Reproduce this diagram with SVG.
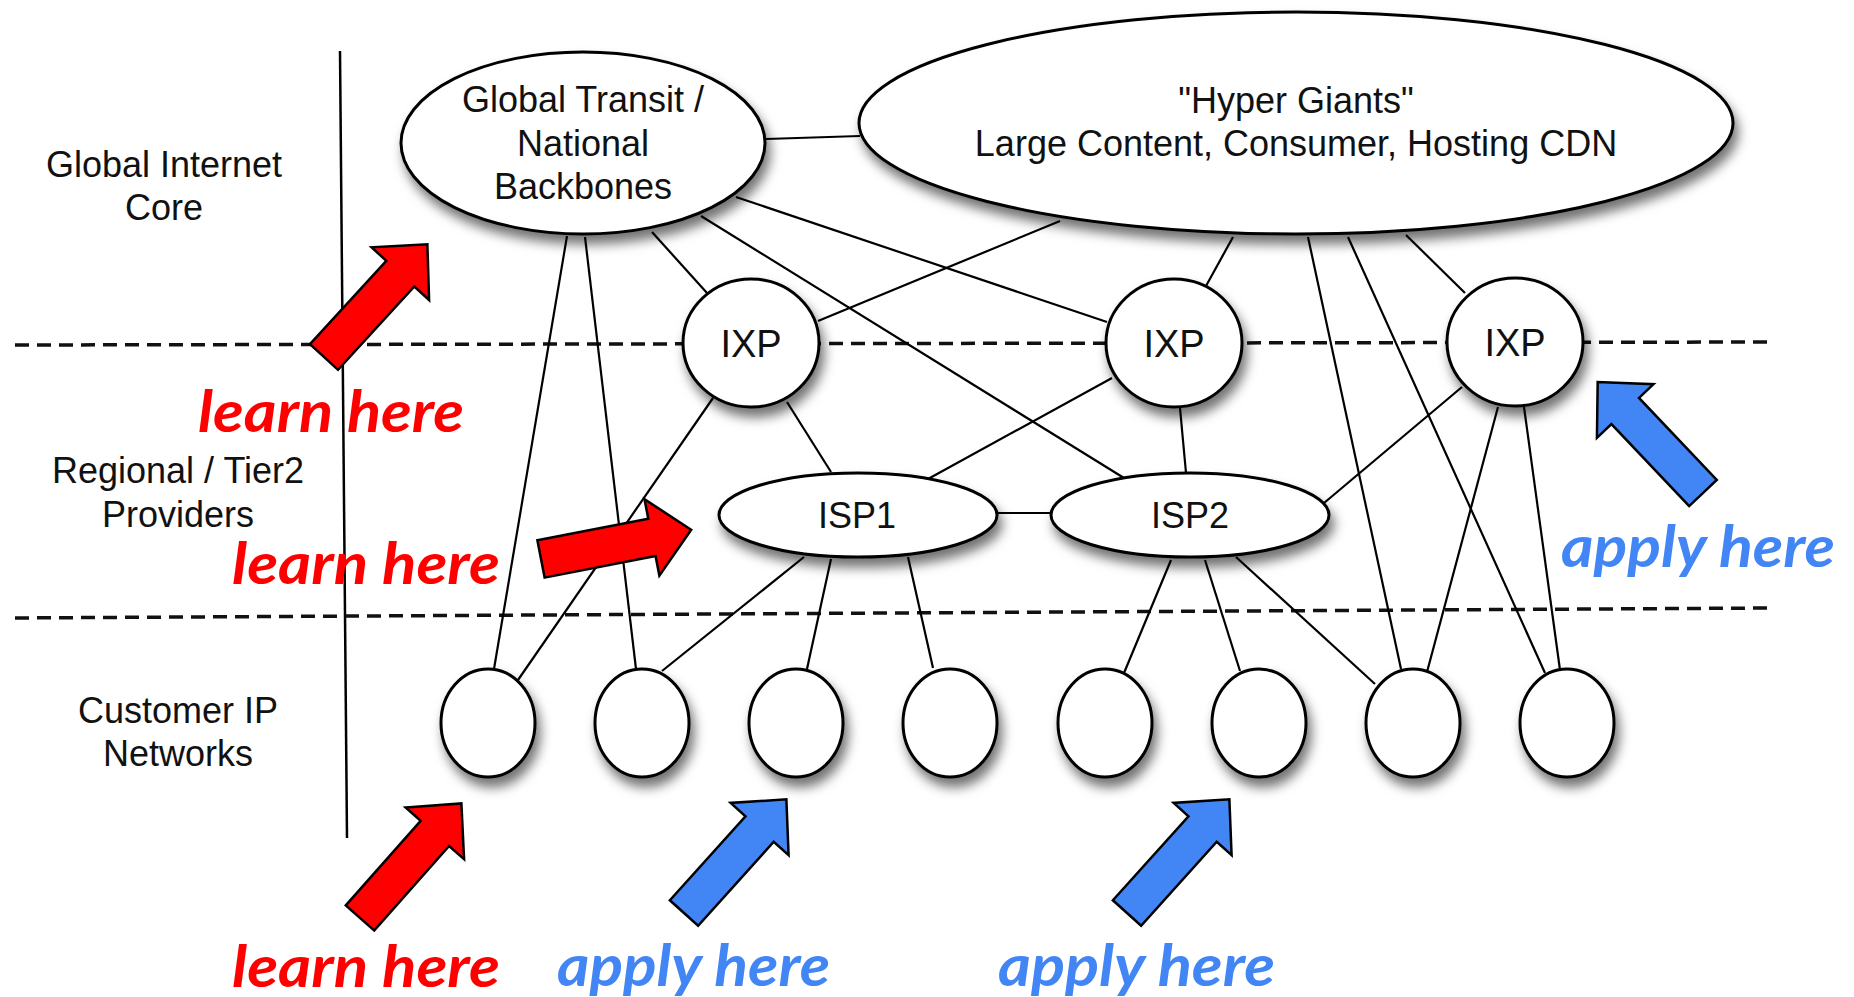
<svg xmlns="http://www.w3.org/2000/svg" width="1854" height="997" viewBox="0 0 1854 997">
<defs>
<filter id="sh" x="-30%" y="-30%" width="160%" height="170%">
<feDropShadow dx="4" dy="9" stdDeviation="6" flood-color="#000" flood-opacity="0.55"/>
</filter>
<path id="arr" d="M0,-19 L113,-19 L113,-39 L153,0 L113,39 L113,19 L0,19 Z"/>
</defs>
<style>
.node{fill:#fff;stroke:#000;stroke-width:3;filter:url(#sh)}
.lbl{font-family:"Liberation Sans",Arial,sans-serif;font-size:36px;fill:#111;text-anchor:middle}
.ixp{font-size:38px}
.con line{stroke:#000;stroke-width:2.2}
.dash{stroke:#111;stroke-width:3.5;stroke-dasharray:14 8}
.red{fill:#ff0000;stroke:#000;stroke-width:2.5;stroke-linejoin:miter}
.blue{fill:#4285f4;stroke:#000;stroke-width:2.5;stroke-linejoin:miter}
.note{font-family:Lato,"Open Sans",sans-serif;font-weight:bold;font-style:italic;font-size:58px}
.rt{fill:#ff0000}
.bt{fill:#4285f4}
</style>
<rect width="1854" height="997" fill="#fff"/>

<g id="layers">
<line x1="340" y1="51" x2="347" y2="838" stroke="#000" stroke-width="2.5"/>
<line class="dash" x1="15" y1="345" x2="1773" y2="342"/>
<line class="dash" x1="15" y1="618" x2="1773" y2="608"/>
<text class="lbl" x="164" y="177">Global Internet</text>
<text class="lbl" x="164" y="220">Core</text>
<text class="lbl" x="178" y="483">Regional / Tier2</text>
<text class="lbl" x="178" y="527">Providers</text>
<text class="lbl" x="178" y="723">Customer IP</text>
<text class="lbl" x="178" y="766">Networks</text>
</g>

<g id="connectors" class="con">
<line x1="766" y1="139" x2="860" y2="136"/>
<line x1="567" y1="236" x2="494" y2="669"/>
<line x1="585" y1="237" x2="636" y2="669"/>
<line x1="652" y1="232" x2="707" y2="293"/>
<line x1="701" y1="216" x2="1124" y2="478"/>
<line x1="736" y1="197" x2="1107" y2="322"/>
<line x1="1060" y1="221" x2="818" y2="321"/>
<line x1="1233" y1="237" x2="1206" y2="286"/>
<line x1="1308" y1="237" x2="1401" y2="669"/>
<line x1="1348" y1="237" x2="1545" y2="673"/>
<line x1="1406" y1="235" x2="1465" y2="293"/>
<line x1="713" y1="398" x2="518" y2="680"/>
<line x1="787" y1="402" x2="831" y2="472"/>
<line x1="1112" y1="378" x2="928" y2="479"/>
<line x1="1180" y1="408" x2="1186" y2="473"/>
<line x1="1462" y1="387" x2="1324" y2="503"/>
<line x1="1498" y1="407" x2="1427" y2="672"/>
<line x1="1524" y1="407" x2="1560" y2="670"/>
<line x1="997" y1="513" x2="1051" y2="513"/>
<line x1="804" y1="557" x2="662" y2="671"/>
<line x1="831" y1="559" x2="807" y2="669"/>
<line x1="908" y1="557" x2="933" y2="668"/>
<line x1="1171" y1="560" x2="1124" y2="673"/>
<line x1="1205" y1="560" x2="1240" y2="671"/>
<line x1="1236" y1="557" x2="1375" y2="684"/>
</g>

<g id="global-transit">
<ellipse class="node" cx="583" cy="143" rx="182" ry="91"/>
<text class="lbl" x="583" y="112">Global Transit /</text>
<text class="lbl" x="583" y="156">National</text>
<text class="lbl" x="583" y="199">Backbones</text>
</g>
<g id="hyper-giants">
<ellipse class="node" cx="1296" cy="123" rx="437" ry="111"/>
<text class="lbl" x="1296" y="113">"Hyper Giants"</text>
<text class="lbl" x="1296" y="156">Large Content, Consumer, Hosting CDN</text>
</g>
<g id="ixp1">
<ellipse class="node" cx="751" cy="343" rx="68" ry="64"/>
<text class="lbl ixp" x="751" y="357">IXP</text>
</g>
<g id="ixp2">
<ellipse class="node" cx="1174" cy="343" rx="68" ry="64"/>
<text class="lbl ixp" x="1174" y="357">IXP</text>
</g>
<g id="ixp3">
<ellipse class="node" cx="1515" cy="342" rx="68" ry="64"/>
<text class="lbl ixp" x="1515" y="356">IXP</text>
</g>
<g id="isp1">
<ellipse class="node" cx="858" cy="515" rx="139" ry="42"/>
<text class="lbl" x="857" y="528">ISP1</text>
</g>
<g id="isp2">
<ellipse class="node" cx="1190" cy="515" rx="139" ry="42"/>
<text class="lbl" x="1190" y="528">ISP2</text>
</g>
<g id="c1"><ellipse class="node" cx="488" cy="723" rx="47" ry="54"/></g>
<g id="c2"><ellipse class="node" cx="642" cy="723" rx="47" ry="54"/></g>
<g id="c3"><ellipse class="node" cx="796" cy="723" rx="47" ry="54"/></g>
<g id="c4"><ellipse class="node" cx="950" cy="723" rx="47" ry="54"/></g>
<g id="c5"><ellipse class="node" cx="1105" cy="723" rx="47" ry="54"/></g>
<g id="c6"><ellipse class="node" cx="1259" cy="723" rx="47" ry="54"/></g>
<g id="c7"><ellipse class="node" cx="1413" cy="723" rx="47" ry="54"/></g>
<g id="c8"><ellipse class="node" cx="1567" cy="723" rx="47" ry="54"/></g>

<g id="annotations">
<use href="#arr" class="red" transform="translate(324,357) rotate(-47.5)"/>
<use href="#arr" class="red" transform="translate(541,559) rotate(-11)"/>
<use href="#arr" class="red" transform="translate(360,918) rotate(-48.5)"/>
<use href="#arr" class="blue" transform="translate(684,913) rotate(-48)"/>
<use href="#arr" class="blue" transform="translate(1127,913) rotate(-48)"/>
<use href="#arr" class="blue" transform="translate(1703,493) rotate(-133.5)"/>
<text class="note rt" x="198" y="432" textLength="266" lengthAdjust="spacingAndGlyphs">learn here</text>
<text class="note rt" x="232" y="584" textLength="268" lengthAdjust="spacingAndGlyphs">learn here</text>
<text class="note rt" x="232" y="987" textLength="268" lengthAdjust="spacingAndGlyphs">learn here</text>
<text class="note bt" x="557" y="986" textLength="273" lengthAdjust="spacingAndGlyphs">apply here</text>
<text class="note bt" x="998" y="986" textLength="277" lengthAdjust="spacingAndGlyphs">apply here</text>
<text class="note bt" x="1561" y="567" textLength="274" lengthAdjust="spacingAndGlyphs">apply here</text>
</g>
</svg>
